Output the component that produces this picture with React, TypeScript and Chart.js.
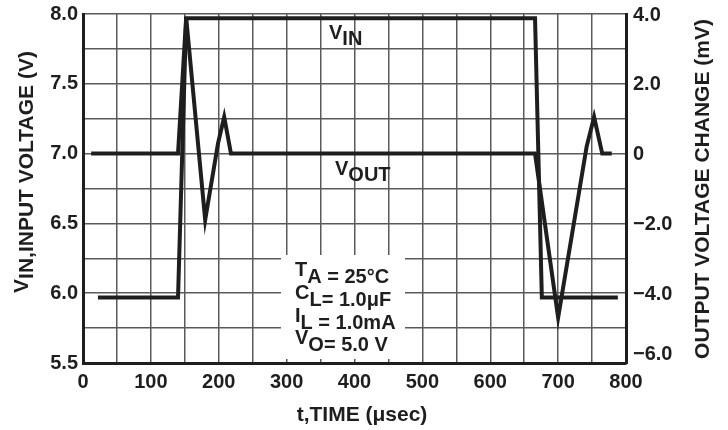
import React, { useEffect, useRef } from 'react';
import { Chart, registerables } from 'chart.js';

Chart.register(...registerables);

const FONT = "'Liberation Sans', Arial, Helvetica, sans-serif";
const INK = '#1e1e1e';
const GRID = '#5a5a5a';

// Time axis (µs)
const timeMin = 0;
const timeMax = 800;
const timeGridStep = 50;
const timeTickLabels = ['0', '100', '200', '300', '400', '500', '600', '700', '800'];

// Left axis: input voltage (V)
const vinMin = 5.5;
const vinMax = 8.0;
const vinGridStep = 0.25;
const leftTickLabels = ['5.5', '6.0', '6.5', '7.0', '7.5', '8.0'];

// Right axis: output voltage change (mV)
const voutMin = -6;
const voutMax = 4;
const voutGridStep = 1;
const rightTickValues = [-6, -4, -2, 0, 2, 4];
const rightTickLabels = ['\u22126.0', '\u22124.0', '\u22122.0', '0', '2.0', '4.0'];

// Series
const vinTime = [22, 140, 152, 666, 676, 788];
const vinVolts = [5.97, 5.97, 7.97, 7.97, 5.97, 5.97];
const voutTime = [12, 140, 152, 180, 199, 208, 218, 666, 700, 742, 753, 765, 779];
const voutMilliVolts = [0, 0, 3.9, -1.9, 0.3, 1.05, 0, 0, -4.7, 0.2, 1.05, 0, 0];

// Texts: [main, subscript, rest]
const conditions: [string, string, string][] = [
  ['T', 'A', ' = 25\u00B0C'],
  ['C', 'L', '= 1.0\u03BCF'],
  ['I', 'L', ' = 1.0mA'],
  ['V', 'O', '= 5.0 V'],
];
const vinLabel: [string, string, string] = ['V', 'IN', ''];
const voutLabel: [string, string, string] = ['V', 'OUT', ''];
const leftTitle: [string, string, string] = ['V', 'IN', ',INPUT VOLTAGE (V)'];
const rightTitle = 'OUTPUT VOLTAGE CHANGE (mV)';
const xTitle = 't,TIME (\u03BCsec)';

const isMultiple = (v: number, step: number) => Math.abs(v / step - Math.round(v / step)) < 1e-6;

function drawSub(ctx: CanvasRenderingContext2D, x: number, y: number, parts: [string, string, string], raise: number) {
  let cx = x;
  ctx.fillText(parts[0], cx, y - raise);
  cx += ctx.measureText(parts[0]).width;
  ctx.fillText(parts[1], cx, y);
  cx += ctx.measureText(parts[1]).width;
  if (parts[2]) ctx.fillText(parts[2], cx, y);
}

function subWidth(ctx: CanvasRenderingContext2D, parts: [string, string, string]) {
  return parts.reduce((s, p) => s + ctx.measureText(p).width, 0);
}

const overlayPlugin = {
  id: 'overlay',
  beforeDatasetsDraw(chart: any) {
    const ctx = chart.ctx as CanvasRenderingContext2D;
    ctx.save();
    ctx.fillStyle = '#ffffff';
    ctx.fillRect(281, 255, 124, 104);
    ctx.restore();
  },
  afterDraw(chart: any) {
    const ctx = chart.ctx as CanvasRenderingContext2D;
    const y2 = chart.scales.y2;
    ctx.save();
    ctx.fillStyle = INK;
    ctx.textAlign = 'left';
    ctx.textBaseline = 'alphabetic';
    ctx.font = `bold 20px ${FONT}`;

    // right tick labels (bottom one lifted to clear the 800 label)
    ctx.textBaseline = 'middle';
    rightTickValues.forEach((v, i) => {
      const py = y2.getPixelForValue(v) + (i === 0 ? -9 : 1);
      ctx.fillText(rightTickLabels[i], y2.left + 7, py);
    });
    ctx.textBaseline = 'alphabetic';

    // conditions box
    const baselines = [283, 306, 329, 351];
    conditions.forEach((c, i) => drawSub(ctx, 295, baselines[i], c, 7));

    // series labels
    drawSub(ctx, 329, 45, vinLabel, 6);
    drawSub(ctx, 335, 181, voutLabel, 6);

    ctx.font = `bold 21px ${FONT}`;
    // x title
    ctx.textAlign = 'center';
    ctx.fillText(xTitle, 362, 421);

    // left title (rotated)
    ctx.save();
    ctx.translate(30, 172);
    ctx.rotate(-Math.PI / 2);
    ctx.textAlign = 'left';
    const lw = subWidth(ctx, leftTitle);
    drawSub(ctx, -lw / 2, 3, leftTitle, 5);
    ctx.restore();

    // right title (rotated)
    ctx.save();
    ctx.translate(709, 189);
    ctx.rotate(-Math.PI / 2);
    ctx.textAlign = 'center';
    ctx.fillText(rightTitle, 0, 0);
    ctx.restore();

    ctx.restore();
  },
};

export default function App() {
  const canvasRef = useRef<HTMLCanvasElement | null>(null);

  useEffect(() => {
    const canvas = canvasRef.current;
    if (!canvas) return;
    const tickFont = { family: FONT, size: 20, weight: 'bold' as const, lineHeight: 0.9 };

    const chart = new Chart(canvas, {
      type: 'line',
      data: {
        datasets: [
          {
            label: 'VIN',
            data: vinTime.map((t, i) => ({ x: t, y: vinVolts[i] })),
            yAxisID: 'y',
            borderColor: INK,
            borderWidth: 4,
            pointRadius: 0,
            tension: 0,
            fill: false,
            borderJoinStyle: 'miter',
          },
          {
            label: 'VOUT',
            data: voutTime.map((t, i) => ({ x: t, y: voutMilliVolts[i] })),
            yAxisID: 'y2',
            borderColor: INK,
            borderWidth: 4,
            pointRadius: 0,
            tension: 0,
            fill: false,
            borderJoinStyle: 'miter',
          },
        ],
      },
      options: {
        responsive: false,
        animation: false,
        devicePixelRatio: 1,
        layout: { padding: { top: 14, left: 0, right: 0, bottom: 0 } },
        plugins: { legend: { display: false }, tooltip: { enabled: false } },
        scales: {
          x: {
            type: 'linear',
            position: 'bottom',
            min: timeMin,
            max: timeMax,
            afterFit: (s: any) => { s.height = 67; },
            afterBuildTicks: (s: any) => {
              const t = [];
              for (let v = timeMin; v <= timeMax + 1e-9; v += timeGridStep) t.push({ value: v });
              s.ticks = t;
            },
            ticks: {
              autoSkip: false,
              maxRotation: 0,
              padding: 10,
              color: INK,
              font: tickFont,
              callback: (v: any) => (isMultiple(Number(v), 100) ? timeTickLabels[Math.round(Number(v) / 100)] : ''),
            },
            grid: { color: GRID, lineWidth: 1.5, drawTicks: false },
            border: { display: true, color: INK, width: 3 },
          },
          y: {
            type: 'linear',
            position: 'left',
            min: vinMin,
            max: vinMax,
            afterFit: (s: any) => { s.width = 83; },
            afterBuildTicks: (s: any) => {
              const t = [];
              for (let k = 0; k <= Math.round((vinMax - vinMin) / vinGridStep); k++) t.push({ value: vinMin + k * vinGridStep });
              s.ticks = t;
            },
            ticks: {
              autoSkip: false,
              padding: 5,
              color: INK,
              font: tickFont,
              callback: (v: any) => (isMultiple(Number(v) - vinMin, 0.5) ? leftTickLabels[Math.round((Number(v) - vinMin) / 0.5)] : ''),
            },
            grid: { color: GRID, lineWidth: 1.5, drawTicks: false },
            border: { display: true, color: INK, width: 3 },
          },
          y2: {
            type: 'linear',
            position: 'right',
            min: voutMin,
            max: voutMax,
            afterFit: (s: any) => { s.width = 102; },
            afterBuildTicks: (s: any) => {
              const t = [];
              for (let v = voutMin; v <= voutMax + 1e-9; v += voutGridStep) t.push({ value: v });
              s.ticks = t;
            },
            ticks: { display: false },
            grid: { drawOnChartArea: false, drawTicks: false },
            border: { display: true, color: INK, width: 3 },
          },
        },
      },
      plugins: [overlayPlugin],
    });

    return () => chart.destroy();
  }, []);

  return (
    <div style={{ position: 'fixed', left: 0, top: 0, width: 728, height: 430, background: '#fff' }}>
      <canvas ref={canvasRef} width={728} height={430} style={{ width: 728, height: 430, display: 'block' }} />
    </div>
  );
}
